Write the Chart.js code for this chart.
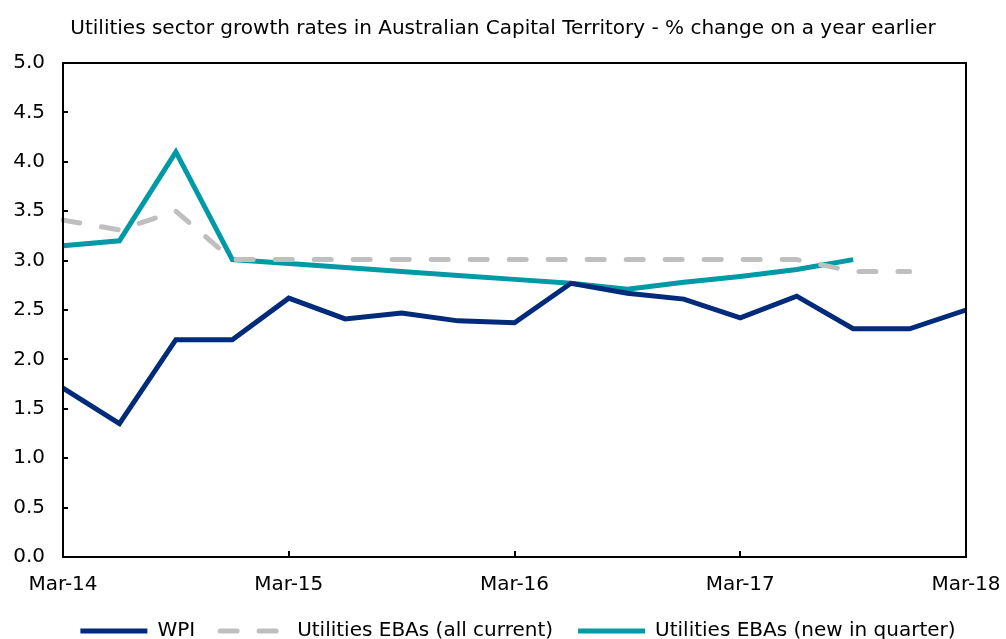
<!DOCTYPE html>
<html>
<head>
<meta charset="utf-8">
<script src="https://cdn.jsdelivr.net/npm/chart.js@4/dist/chart.umd.min.js"></script>
<style>
  html, body { margin: 0; padding: 0; background: #fff; }
  #wrap { width: 1006px; height: 639px; position: relative; }
</style>
</head>
<body>
<div id="wrap"><canvas id="c" width="1006" height="639"></canvas></div>
<script>
// Quarterly periods, Mar-14 to Mar-18
const quarters = ['Mar-14','Jun-14','Sep-14','Dec-14','Mar-15','Jun-15','Sep-15','Dec-15',
                  'Mar-16','Jun-16','Sep-16','Dec-16','Mar-17','Jun-17','Sep-17','Dec-17','Mar-18'];
const tickLabels = ['Mar-14','Mar-15','Mar-16','Mar-17','Mar-18'];
const yTicks = [0, 0.5, 1, 1.5, 2, 2.5, 3, 3.5, 4, 4.5, 5];

// % change on a year earlier
const wpi = [1.71, 1.35, 2.20, 2.20, 2.62, 2.41, 2.47, 2.39, 2.37, 2.77, 2.67, 2.61, 2.42, 2.64, 2.31, 2.31, 2.50];
const ebaAllCurrent = [3.41, 3.31, 3.50, 3.01, 3.01, 3.01, 3.01, 3.01, 3.01, 3.01, 3.01, 3.01, 3.01, 3.01, 2.89, 2.89, null];
const ebaNewInQuarter = [3.15, 3.20, 4.10, 3.01, 2.97, 2.93, 2.89, 2.85, 2.81, 2.77, 2.71, 2.78, 2.84, 2.91, 3.01, null, null];

const FONT = 'DejaVu Sans';

// Frame around the plot area plus short inward tick marks
const frame = {
  id: 'frame',
  afterLayout(chart) {
    // nudge the legend row to the right
    if (chart.legend) { chart.legend.left += 15; chart.legend.right += 15; }
  },
  afterDatasetsDraw(chart) {
    const { ctx, chartArea: a, scales } = chart;
    ctx.save();
    ctx.strokeStyle = '#000';
    ctx.lineWidth = 2;
    ctx.beginPath();
    yTicks.forEach(v => {
      const y = Math.round(scales.y.getPixelForValue(v));
      ctx.moveTo(a.left, y); ctx.lineTo(a.left + 5, y);
    });
    quarters.forEach((q, i) => {
      if (i % 4 === 0 && i > 0 && i < quarters.length - 1) {
        const x = Math.round(scales.x.getPixelForValue(i));
        ctx.moveTo(x, a.bottom); ctx.lineTo(x, a.bottom - 6);
      }
    });
    ctx.stroke();
    ctx.strokeRect(a.left, a.top, a.right - a.left, a.bottom - a.top);
    ctx.restore();
  }
};

// Legend entries drawn as line samples carrying each series' dash and width
function legendLabels(chart) {
  const items = Chart.defaults.plugins.legend.labels.generateLabels(chart);
  return items.map(it => {
    const ds = chart.data.datasets[it.datasetIndex];
    return Object.assign(it, {
      lineDash: ds.borderDash || [],
      lineDashOffset: 0,
      lineCap: ds.borderCapStyle || 'butt',
      lineWidth: ds.borderWidth,
      strokeStyle: ds.borderColor
    });
  });
}

new Chart(document.getElementById('c'), {
  type: 'line',
  data: {
    labels: quarters,
    datasets: [
      { label: 'WPI', data: wpi, borderColor: '#002A7A', backgroundColor: '#002A7A',
        borderWidth: 5, pointRadius: 0, tension: 0, borderJoinStyle: 'miter' },
      { label: 'Utilities EBAs (all current)', data: ebaAllCurrent, borderColor: '#BFBFBF', backgroundColor: '#BFBFBF',
        borderWidth: 5, pointRadius: 0, tension: 0, borderDash: [17, 22], borderCapStyle: 'round' },
      { label: 'Utilities EBAs (new in quarter)', data: ebaNewInQuarter, borderColor: '#0099A6', backgroundColor: '#0099A6',
        borderWidth: 5, pointRadius: 0, tension: 0 }
    ]
  },
  plugins: [frame],
  options: {
    responsive: false,
    animation: false,
    layout: { padding: { left: 0, right: 0, top: 8, bottom: -12 } },
    plugins: {
      title: {
        display: true,
        text: 'Utilities sector growth rates in Australian Capital Territory - % change on a year earlier',
        color: '#000',
        font: { family: FONT, size: 20, weight: 'normal' },
        padding: { top: 9, bottom: 22 }
      },
      legend: {
        position: 'bottom',
        labels: {
          color: '#000',
          font: { family: FONT, size: 20 },
          usePointStyle: true,
          pointStyle: 'line',
          pointStyleWidth: 67,
          boxHeight: 20,
          padding: 25,
          generateLabels: legendLabels
        }
      },
      tooltip: { enabled: false }
    },
    scales: {
      x: {
        type: 'category',
        offset: false,
        afterFit: s => { s.height = 39; s.paddingLeft = 0; s.paddingRight = 40; },
        grid: { display: false, drawTicks: false },
        border: { display: true, color: '#000', width: 2 },
        ticks: {
          autoSkip: false, maxRotation: 0, color: '#000', padding: 16,
          font: { family: FONT, size: 20 },
          callback: (v, i) => (i % 4 === 0 ? tickLabels[i / 4] : '')
        }
      },
      y: {
        min: 0, max: 5,
        afterFit: s => { s.width = 63; },
        afterBuildTicks: s => { s.ticks = yTicks.map(v => ({ value: v })); },
        grid: { display: false, drawTicks: false },
        border: { display: true, color: '#000', width: 2 },
        ticks: {
          color: '#000', padding: 18,
          font: { family: FONT, size: 20 },
          callback: v => v.toFixed(1)
        }
      }
    }
  }
});
</script>
</body>
</html>
